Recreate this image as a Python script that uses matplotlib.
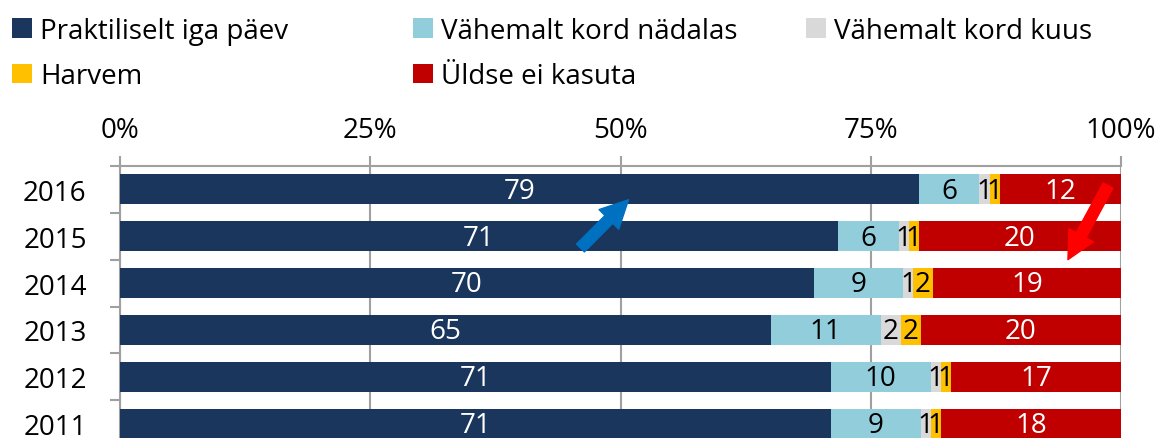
import numpy as np
import matplotlib.pyplot as plt

plt.rcParams['font.family'] = ['Open Sans', 'DejaVu Sans']

# andmed
years = ['2016', '2015', '2014', '2013', '2012', '2011']
categories = ['Praktiliselt iga päev', 'Vähemalt kord nädalas', 'Vähemalt kord kuus',
              'Harvem', 'Üldse ei kasuta']
daily = [79, 71, 70, 65, 71, 71]
weekly = [6, 6, 9, 11, 10, 9]
monthly = [1, 1, 1, 2, 1, 1]
rarely = [1, 1, 2, 2, 1, 1]
never = [12, 20, 19, 20, 17, 18]

colors = ['#1A365D', '#92CDDC', '#D9D9D9', '#FFC000', '#C00000']
label_colors = ['white', 'black', 'black', 'black', 'white']
grid_col = '#A0A0A0'

series = np.array([daily, weekly, monthly, rarely, never], dtype=float)
shares = series / series.sum(axis=0) * 100

W, H = 1161, 439
fig = plt.figure(figsize=(W / 100, H / 100), dpi=100)
ax = fig.add_axes([120 / W, -9 / H, 1001 / W, 281 / H])

y = np.arange(len(years))
left = np.zeros(len(years))
handles = []
for i, cat in enumerate(categories):
    bars = ax.barh(y, shares[i], left=left, height=0.64, color=colors[i], label=cat, zorder=3)
    handles.append(bars)
    for j in range(len(years)):
        ax.text(left[j] + shares[i][j] / 2, y[j] + 0.03, f'{series[i][j]:.0f}',
                ha='center', va='center', fontsize=20, color=label_colors[i], zorder=4)
    left += shares[i]

ax.set_xlim(0, 100)
ax.set_ylim(len(years) - 1 + 0.49, -0.49)
ax.set_yticks(y)
ax.set_yticklabels(years, fontsize=20)
ax.set_yticks(np.arange(len(years) + 1) - 0.5, minor=True)
ax.set_xticks([0, 25, 50, 75, 100])
ax.set_xticklabels(['0%', '25%', '50%', '75%', '100%'], fontsize=20)
ax.xaxis.tick_top()
ax.tick_params(axis='x', length=7, width=1.5, color=grid_col, pad=9)
ax.tick_params(axis='y', which='major', length=0, pad=24)
ax.tick_params(axis='y', which='minor', length=7, width=1.5, color=grid_col)
ax.grid(axis='x', color=grid_col, linewidth=1.5, zorder=0)
for s in ['right', 'bottom']:
    ax.spines[s].set_visible(False)
for s in ['top', 'left']:
    ax.spines[s].set_color(grid_col)
    ax.spines[s].set_linewidth(1.5)

# nooled
astyle = 'simple,head_length=1.0,head_width=1.0,tail_width=0.4'
ax.annotate('', xy=(50.8, 0.22), xytext=(46.0, 1.25),
            arrowprops=dict(arrowstyle=astyle, mutation_scale=20, color='#0070C0',
                            shrinkA=0, shrinkB=0), zorder=5)
ax.annotate('', xy=(94.7, 1.5), xytext=(98.7, -0.08),
            arrowprops=dict(arrowstyle=astyle, mutation_scale=20, color='#FF0000',
                            shrinkA=0, shrinkB=0), zorder=5)

# legend: kolm veergu
columns = [[0, 3], [1, 4], [2]]
col_x = [12, 413, 806]
for idx, x0 in zip(columns, col_x):
    fig.legend([handles[k] for k in idx], [categories[k] for k in idx],
               loc='upper left', bbox_to_anchor=(x0 / W, 1 - 18 / H), frameon=False,
               fontsize=20, handlelength=0.72, handleheight=0.72, handletextpad=0.3,
               labelspacing=0.62, borderpad=0, borderaxespad=0)

fig.savefig('out.png', dpi=100)
